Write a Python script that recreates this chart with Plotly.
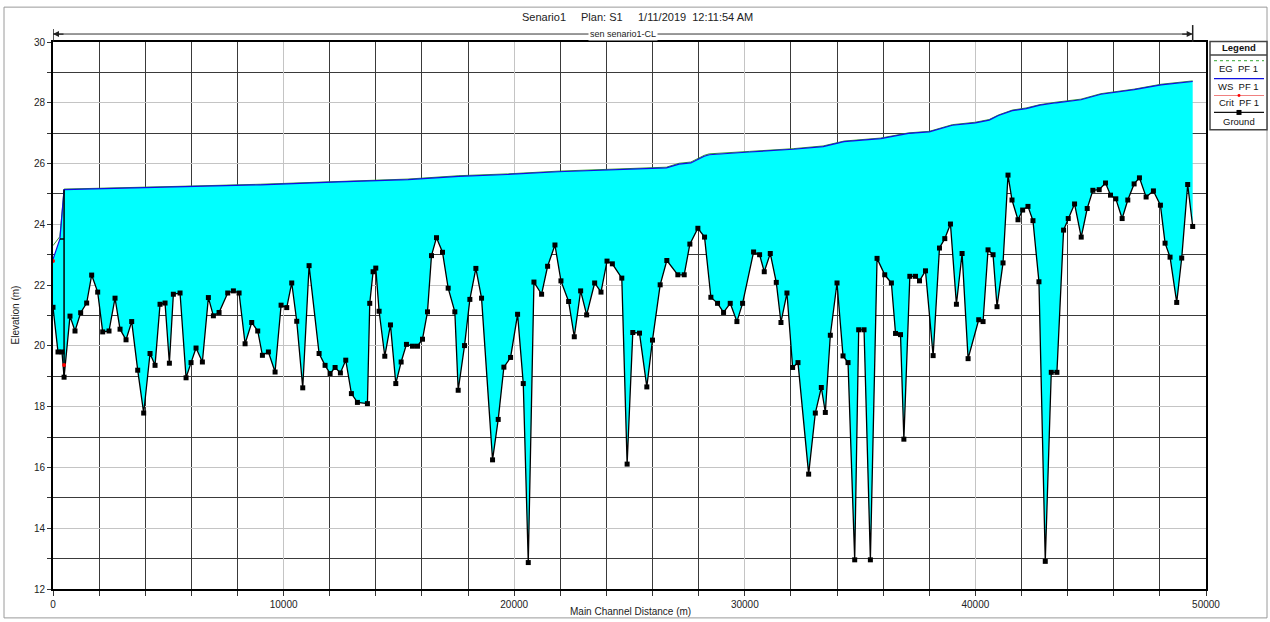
import plotly.graph_objects as go

# ---------------- data ----------------
ground_x = [0, 217, 390, 480, 737, 954, 1200, 1460, 1677, 1938, 2155, 2429, 2690, 2907, 3167, 3413,
            3673, 3933, 4208, 4425, 4642, 4859, 5047, 5220, 5509, 5770, 5986, 6203, 6478, 6738, 6955,
            7201, 7577, 7823, 8069, 8329, 8618, 8878, 9081, 9341, 9630, 9891, 10136, 10353, 10570,
            10830, 11105, 11539, 11799, 12016, 12233, 12463, 12695, 12940, 13201, 13635, 13736, 13881,
            13997, 14142, 14388, 14634, 14865, 15097, 15328, 15588, 15806, 16023, 16240, 16413, 16630,
            16891, 17137, 17426, 17571, 17846, 18077, 18338, 18584, 19061, 19307, 19553, 19843, 20147,
            20393, 20610, 20856, 21188, 21449, 21767, 22027, 22360, 22606, 22881, 23142, 23489, 23764,
            24025, 24256, 24666, 24897, 25143, 25433, 25751, 25997, 26330, 26619, 27097, 27372, 27618,
            27965, 28254, 28529, 28818, 29079, 29368, 29658, 29904, 30381, 30642, 30844, 31105, 31365,
            31568, 31828, 32074, 32306, 32769, 33058, 33318, 33492, 33709, 33999, 34259, 34476, 34766,
            34939, 35171, 35446, 35735, 36068, 36357, 36537, 36753, 36898, 37157, 37403, 37576, 37835,
            38167, 38442, 38672, 38918, 39177, 39423, 39683, 40144, 40332, 40548, 40765, 40938, 41198,
            41414, 41587, 41847, 42049, 42280, 42496, 42756, 43030, 43290, 43535, 43824, 44026, 44300,
            44589, 44849, 45094, 45368, 45643, 45859, 46089, 46364, 46609, 46883, 47114, 47403, 47720,
            48023, 48225, 48441, 48730, 48947, 49206, 49423]
ground_z = [21.27, 19.80, 19.80, 18.97, 20.98, 20.49, 21.09, 21.41, 22.33, 21.77, 20.46, 20.49, 21.57,
            20.55, 20.20, 20.80, 19.20, 17.79, 19.75, 19.36, 21.37, 21.41, 19.43, 21.70, 21.74, 18.95,
            19.45, 19.93, 19.47, 21.59, 20.99, 21.10, 21.74, 21.81, 21.74, 20.07, 20.77, 20.49, 19.69,
            19.80, 19.14, 21.34, 21.26, 22.07, 20.81, 18.62, 22.64, 19.75, 19.36, 19.09, 19.29, 19.11,
            19.53, 18.43, 18.14, 18.10, 21.40, 22.44, 22.56, 21.14, 19.66, 20.69, 18.76, 19.47, 20.05,
            19.99, 19.99, 20.22, 21.12, 22.97, 23.56, 23.08, 21.90, 21.12, 18.54, 20.01, 21.53, 22.55,
            21.57, 16.25, 17.58, 19.30, 19.62, 21.04, 18.76, 12.87, 22.10, 21.70, 22.62, 23.32, 22.14,
            21.46, 20.30, 21.81, 21.02, 22.07, 21.77, 22.79, 22.70, 22.23, 16.11, 20.44, 20.42, 18.65,
            20.19, 22.01, 22.81, 22.34, 22.34, 23.35, 23.87, 23.58, 21.60, 21.40, 21.10, 21.40, 20.80,
            21.40, 23.09, 23.00, 22.44, 23.04, 22.09, 20.77, 21.74, 19.29, 19.45, 15.78, 17.79, 18.63,
            17.81, 20.35, 22.07, 19.67, 19.45, 12.96, 20.53, 20.53, 12.96, 22.88, 22.34, 22.07, 20.41,
            20.37, 16.93, 22.29, 22.29, 22.14, 22.47, 19.68, 23.22, 23.53, 24.01, 21.37, 23.04, 19.58,
            20.86, 20.80, 23.16, 23.00, 21.29, 22.73, 25.62, 24.80, 24.15, 24.47, 24.59, 24.12, 22.11,
            12.91, 19.13, 19.13, 23.81, 24.19, 24.67, 23.58, 24.52, 25.12, 25.14, 25.36, 24.96, 24.84,
            24.19, 24.80, 25.33, 25.53, 24.90, 25.10, 24.63, 23.38, 22.92, 21.43, 22.89, 25.31, 23.93]

ws_x = [0, 300, 480, 3000, 6000, 9000, 12400, 15400, 17600, 19700, 21900, 24100, 25500, 26600,
        27150, 27660, 28240, 28460, 30200, 32100, 33400, 34300, 35900, 37100, 38000, 39000, 40000,
        40600, 41000, 41600, 42200, 42800, 43500, 44580, 45440, 46890, 48050, 49423]
ws_z = [22.85, 23.52, 25.14, 25.18, 25.24, 25.30, 25.40, 25.47, 25.58, 25.64, 25.73, 25.80, 25.83,
        25.86, 25.98, 26.02, 26.24, 26.29, 26.38, 26.47, 26.56, 26.72, 26.82, 26.99, 27.04, 27.26,
        27.34, 27.43, 27.58, 27.74, 27.81, 27.92, 28.00, 28.10, 28.28, 28.43, 28.59, 28.70]

eg_x = ws_x
eg_z = [23.30, 23.60, 25.16, 25.20, 25.26, 25.32, 25.42, 25.49, 25.60, 25.66, 25.75, 25.82, 25.85,
        25.88, 26.01, 26.05, 26.27, 26.32, 26.40, 26.49, 26.58, 26.74, 26.84, 27.01, 27.06, 27.28,
        27.36, 27.45, 27.60, 27.76, 27.83, 27.94, 28.02, 28.12, 28.30, 28.45, 28.61, 28.72]

crit_x = [0, 480]
crit_z = [22.79, 19.37]

structure_x = [300, 480, 480, 480]
structure_z = [23.52, 23.52, 25.14, 18.97]

x_tickvals = [0, 10000, 20000, 30000, 40000, 50000]
y_tickvals = [12, 14, 16, 18, 20, 22, 24, 26, 28, 30]

title_parts = ["Senario1", "Plan: S1", "1/11/2019\u00a0\u00a012:11:54 AM"]
reach_label = "sen senario1-CL"
legend_labels = ["EG\u00a0\u00a0PF 1", "WS\u00a0\u00a0PF 1", "Crit\u00a0\u00a0PF 1", "Ground"]

# ---------------- layout geometry (pixels) ----------------
W, H = 1270, 622
L, R, T, B = 53, 1206, 42, 591
FONT = "Arial, Liberation Sans, sans-serif"


def pxx(px):
    return (px - L) / (R - L)


def pxy(py):
    return (B - py) / (B - T)


fig = go.Figure()

# cyan fill between ground and water surface
fig.add_trace(go.Scatter(x=ground_x, y=ground_z, mode="lines", line=dict(width=0),
                         showlegend=False, hoverinfo="skip"))
fig.add_trace(go.Scatter(x=ws_x, y=ws_z, mode="lines", line=dict(width=0), fill="tonexty",
                         fillcolor="#00FFFF", showlegend=False, hoverinfo="skip"))

# lines
fig.add_trace(go.Scatter(x=eg_x, y=eg_z, mode="lines", line=dict(color="#2e9a2e", width=1),
                         name="EG PF 1", showlegend=False))
fig.add_trace(go.Scatter(x=ws_x, y=ws_z, mode="lines", line=dict(color="#1010e0", width=1.2),
                         name="WS PF 1", showlegend=False))
fig.add_trace(go.Scatter(x=structure_x, y=structure_z, mode="lines",
                         line=dict(color="black", width=1.5), showlegend=False, hoverinfo="skip"))
fig.add_trace(go.Scatter(x=ground_x, y=ground_z, mode="lines+markers",
                         line=dict(color="black", width=1.3),
                         marker=dict(symbol="square", size=5, color="black"),
                         name="Ground", showlegend=False))
fig.add_trace(go.Scatter(x=crit_x, y=crit_z, mode="markers",
                         marker=dict(symbol="circle", size=4, color="red"),
                         name="Crit PF 1", showlegend=False, cliponaxis=False))

shapes = []
annotations = []

# outer frame
shapes.append(dict(type="rect", xref="paper", yref="paper", x0=pxx(4), x1=pxx(1267),
                   y0=pxy(620), y1=pxy(7), line=dict(color="#9a9a9a", width=1), layer="below"))

# title
title_centers = [544, 602, 695]
for txt, cx in zip(title_parts, title_centers):
    annotations.append(dict(text=txt, xref="paper", yref="paper", x=pxx(cx), y=pxy(17),
                            xanchor="center", yanchor="middle", showarrow=False,
                            font=dict(family=FONT, size=11, color="#222")))

# reach line with arrows
reach_end = ground_x[-1]
ry = pxy(34)
shapes.append(dict(type="line", xref="x", yref="paper", x0=ground_x[0], x1=reach_end,
                   y0=ry, y1=ry, line=dict(color="#333", width=1)))
shapes.append(dict(type="line", xref="x", yref="paper", x0=ground_x[0], x1=ground_x[0],
                   y0=pxy(42), y1=pxy(29), line=dict(color="#222", width=1.5)))
shapes.append(dict(type="line", xref="x", yref="paper", x0=reach_end, x1=reach_end,
                   y0=pxy(42), y1=pxy(25), line=dict(color="#222", width=1.5)))
annotations.append(dict(x=ground_x[0], y=ry, xref="x", yref="paper", ax=12, ay=0, text="",
                        showarrow=True, arrowhead=2, arrowsize=1, arrowwidth=1.2,
                        arrowcolor="#222", standoff=0))
annotations.append(dict(x=reach_end, y=ry, xref="x", yref="paper", ax=-12, ay=0, text="",
                        showarrow=True, arrowhead=2, arrowsize=1, arrowwidth=1.2,
                        arrowcolor="#222", standoff=0))
annotations.append(dict(text=reach_label, x=(ground_x[0] + reach_end) / 2, y=ry, xref="x",
                        yref="paper", showarrow=False, bgcolor="white", borderpad=1,
                        xanchor="center", yanchor="middle",
                        font=dict(family=FONT, size=9, color="#222")))

# axis titles
annotations.append(dict(text="Main Channel Distance (m)", xref="paper", yref="paper",
                        x=pxx(630), y=pxy(614), showarrow=False, xanchor="center",
                        yanchor="middle", font=dict(family=FONT, size=10, color="#222")))
annotations.append(dict(text="Elevation (m)", xref="paper", yref="paper", x=pxx(15), y=0.5,
                        showarrow=False, textangle=-90, xanchor="center", yanchor="middle",
                        font=dict(family=FONT, size=10, color="#222")))

# manual legend
lx0, lx1 = 1210, 1267
shapes.append(dict(type="rect", xref="paper", yref="paper", x0=pxx(lx0), x1=pxx(lx1),
                   y0=pxy(130), y1=pxy(41.5), line=dict(color="#444", width=1.5),
                   fillcolor="white"))
shapes.append(dict(type="line", xref="paper", yref="paper", x0=pxx(lx0), x1=pxx(lx1),
                   y0=pxy(55), y1=pxy(55), line=dict(color="#444", width=1.5)))
annotations.append(dict(text="<b>Legend</b>", xref="paper", yref="paper", x=pxx(1238.5),
                        y=pxy(48), showarrow=False, xanchor="center", yanchor="middle",
                        font=dict(family=FONT, size=9.5, color="#111")))
sample_rows = [60.7, 78.7, 95.7, 112.7]
text_rows = [69, 86.7, 102.7, 122]
sample_colors = ["#5cb85c", "#1010e0", "#f08080", "#111"]
for yy, col in zip(sample_rows, sample_colors):
    shapes.append(dict(type="line", xref="paper", yref="paper", x0=pxx(1214), x1=pxx(1264),
                       y0=pxy(yy), y1=pxy(yy),
                       line=dict(color=col, width=1.2, dash="dot" if col == "#5cb85c" else "solid")))
for lab, yy in zip(legend_labels, text_rows):
    annotations.append(dict(text=lab, xref="paper", yref="paper", x=pxx(1238.5), y=pxy(yy),
                            showarrow=False, xanchor="center", yanchor="middle",
                            font=dict(family=FONT, size=9.5, color="#111")))
# legend symbols
shapes.append(dict(type="circle", xref="paper", yref="paper", x0=pxx(1237.5), x1=pxx(1240.5),
                   y0=pxy(97.2), y1=pxy(94.2), fillcolor="red", line=dict(color="red", width=0)))
shapes.append(dict(type="rect", xref="paper", yref="paper", x0=pxx(1236.5), x1=pxx(1241.5),
                   y0=pxy(115.2), y1=pxy(110.2), fillcolor="black", line=dict(color="black", width=0)))

fig.update_layout(
    width=W, height=H, autosize=False,
    margin=dict(l=L, r=W - R, t=T, b=H - B, pad=0),
    paper_bgcolor="white", plot_bgcolor="white",
    showlegend=False,
    shapes=shapes, annotations=annotations,
    font=dict(family=FONT, size=10, color="#222"),
    xaxis=dict(range=[0, 50000], tickmode="array", tickvals=x_tickvals, tickformat="d",
               showgrid=True, gridcolor="#c4c4c4", gridwidth=1, zeroline=False,
               showline=True, linecolor="black", linewidth=2, mirror=True,
               ticks="outside", ticklen=5, tickcolor="#333", tickfont=dict(size=10),
               minor=dict(tickmode="linear", tick0=0, dtick=2000, showgrid=True,
                          gridcolor="#3a3a3a", gridwidth=1, ticks="outside", ticklen=5,
                          tickcolor="#333")),
    yaxis=dict(range=[12, 30], tickmode="array", tickvals=y_tickvals,
               showgrid=True, gridcolor="#c4c4c4", gridwidth=1, zeroline=False,
               showline=True, linecolor="black", linewidth=2, mirror=True,
               ticks="outside", ticklen=4, tickcolor="#333", tickfont=dict(size=10),
               minor=dict(tickmode="linear", tick0=12, dtick=1, showgrid=True,
                          gridcolor="#3a3a3a", gridwidth=1, ticks="outside", ticklen=4,
                          tickcolor="#333")),
)

fig.write_html("out.html", config={"displayModeBar": False},
               post_script="document.body.style.margin='0';document.body.style.overflow='hidden';")
